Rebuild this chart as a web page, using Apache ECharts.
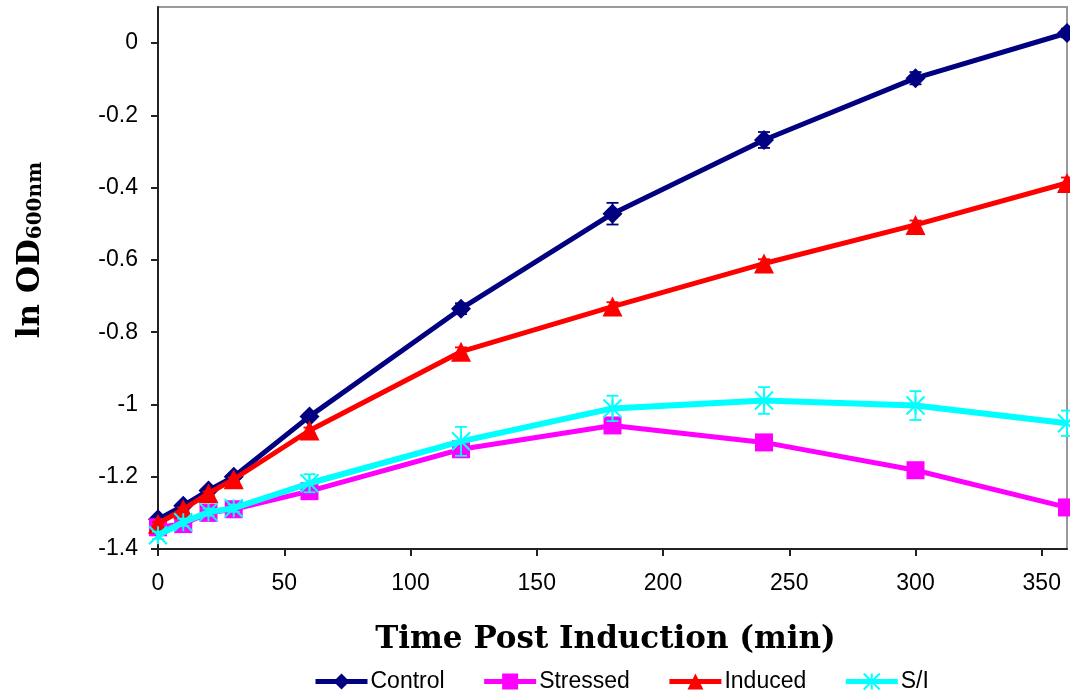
<!DOCTYPE html>
<html>
<head>
<meta charset="utf-8">
<script src="https://cdn.jsdelivr.net/npm/echarts@6/dist/echarts.min.js"></script>
<style>html,body{margin:0;padding:0;background:#fff}#c{width:1070px;height:693px}</style>
</head>
<body>
<div id="c"></div>
<script>
var times = [0, 10, 20, 30, 60, 120, 180, 240, 300, 360];
var control  = [-1.318, -1.280, -1.238, -1.200, -1.033, -0.735, -0.472, -0.268, -0.097, 0.028];
var stressed = [-1.340, -1.331, -1.300, -1.290, -1.240, -1.124, -1.058, -1.105, -1.182, -1.285];
var induced  = [-1.330, -1.290, -1.246, -1.207, -1.072, -0.854, -0.729, -0.610, -0.503, -0.387];
var si       = [-1.362, -1.326, -1.298, -1.287, -1.218, -1.102, -1.011, -0.989, -1.003, -1.052];
var controlErr  = [0.005, 0.005, 0.005, 0.005, 0.008, 0.015, 0.030, 0.022, 0.017, 0.012];
var stressedErr = [0.005, 0.005, 0.005, 0.005, 0.008, 0.010, 0.010, 0.010, 0.012, 0.018];
var inducedErr  = [0.005, 0.005, 0.005, 0.005, 0.008, 0.012, 0.012, 0.012, 0.012, 0.015];
var siErr       = [0.010, 0.010, 0.010, 0.010, 0.025, 0.040, 0.035, 0.037, 0.040, 0.035];
var seriesNames = ['Control', 'Stressed', 'Induced', 'S/I'];
var colors = ['#000080', '#FF00FF', '#FF0000', '#00FFFF'];

function pairs(vals) { return times.map(function (t, i) { return [t, vals[i]]; }); }
function errData(vals, errs) { return times.map(function (t, i) { return [t, vals[i] - errs[i], vals[i] + errs[i]]; }); }

function errSeries(vals, errs, color, z) {
  return {
    type: 'custom', silent: true, z: z,
    data: errData(vals, errs),
    encode: { x: 0, y: [1, 2] },
    renderItem: function (params, api) {
      var x = api.value(0);
      var lo = api.coord([x, api.value(1)]);
      var hi = api.coord([x, api.value(2)]);
      var w = 6;
      var st = { stroke: color, lineWidth: 1.8 };
      return {
        type: 'group',
        children: [
          { type: 'line', shape: { x1: lo[0], y1: lo[1], x2: hi[0], y2: hi[1] }, style: st },
          { type: 'line', shape: { x1: lo[0] - w, y1: lo[1], x2: lo[0] + w, y2: lo[1] }, style: st },
          { type: 'line', shape: { x1: hi[0] - w, y1: hi[1], x2: hi[0] + w, y2: hi[1] }, style: st }
        ]
      };
    }
  };
}

var chart = echarts.init(document.getElementById('c'));
var fontSans = 'Liberation Sans, Arial, sans-serif';
var option = {
  animation: false,
  grid: { left: 158, right: 3, top: 7, bottom: 144, show: true, borderColor: '#9a9a9a', borderWidth: 2, backgroundColor: '#fff' },
  graphic: [{
    type: 'text', x: 15, y: 250, rotation: Math.PI / 2,
    style: {
      text: '{a|ln OD}{b|600nm}', align: 'center', verticalAlign: 'top',
      rich: {
        a: { fontFamily: 'DejaVu Serif', fontWeight: 'bold', fontSize: 31, fill: '#000', verticalAlign: 'bottom' },
        b: { fontFamily: 'DejaVu Serif', fontWeight: 'bold', fontSize: 20, fill: '#000', verticalAlign: 'bottom' }
      }
    }
  }],
  xAxis: {
    type: 'value', min: 0, max: 360, interval: 50,
    name: 'Time Post Induction (min)', nameLocation: 'middle', nameGap: 75,
    nameTextStyle: { fontFamily: 'DejaVu Serif', fontWeight: 'bold', fontSize: 31, color: '#000', padding: [0, 14, 0, 0] },
    axisLine: { onZero: false, lineStyle: { color: '#222', width: 2 } },
    axisTick: { length: 7, lineStyle: { color: '#222', width: 2 } },
    axisLabel: { showMaxLabel: false, fontFamily: fontSans, fontSize: 23, color: '#000', margin: 23 },
    splitLine: { show: false }
  },
  yAxis: {
    type: 'value', min: -1.4, max: 0.1, interval: 0.2,
    axisLine: { show: true, onZero: false, lineStyle: { color: '#222', width: 2 } },
    axisTick: { show: true, length: 7, lineStyle: { color: '#222', width: 2 } },
    axisLabel: {
      showMaxLabel: false, fontFamily: fontSans, fontSize: 23, color: '#000', margin: 20,
      formatter: function (v) { return Math.abs(v) < 1e-9 ? '0' : String(Math.round(v * 10) / 10); }
    },
    splitLine: { show: false }
  },
  legend: {
    left: 313, top: 670, itemWidth: 52, itemHeight: 20, itemGap: 37, padding: 0,
    lineStyle: { width: 5 },
    textStyle: { fontFamily: fontSans, fontSize: 23, color: '#000', padding: [0, 0, 0, -2] },
    data: seriesNames
  },
  series: [
    { name: 'Control', type: 'line', data: pairs(control), z: 2, symbol: 'diamond', symbolSize: 20,
      lineStyle: { color: colors[0], width: 5 }, itemStyle: { color: colors[0] } },
    errSeries(control, controlErr, colors[0], 2),
    { name: 'Stressed', type: 'line', data: pairs(stressed), z: 3, symbol: 'rect', symbolSize: 18,
      lineStyle: { color: colors[1], width: 5 }, itemStyle: { color: colors[1] } },
    errSeries(stressed, stressedErr, colors[1], 3),
    { name: 'Induced', type: 'line', data: pairs(induced), z: 4, symbol: 'triangle', symbolSize: 20,
      lineStyle: { color: colors[2], width: 5 }, itemStyle: { color: colors[2] } },
    errSeries(induced, inducedErr, colors[2], 4),
    { name: 'S/I', type: 'line', data: pairs(si), z: 5,
      symbol: 'path://M0,0L10,10M10,0L0,10M5,0L5,10', symbolSize: 18,
      lineStyle: { color: colors[3], width: 6 },
      itemStyle: { color: 'rgba(0,0,0,0)', borderColor: colors[3], borderWidth: 2 } },
    errSeries(si, siErr, colors[3], 5)
  ]
};
chart.setOption(option);
</script>
</body>
</html>
